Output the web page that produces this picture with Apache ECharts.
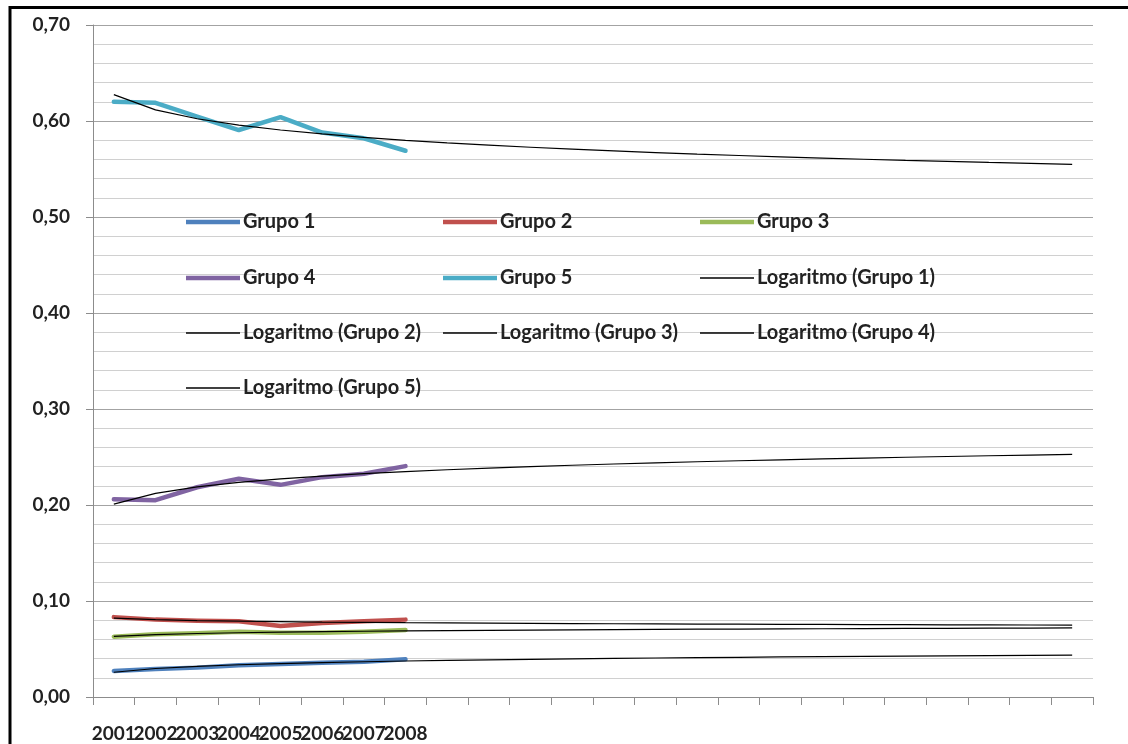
<!DOCTYPE html>
<html>
<head>
<meta charset="utf-8">
<title>Grupos 2001-2008</title>
<script src="https://cdn.jsdelivr.net/npm/echarts@6/dist/echarts.min.js"></script>
<style>
  html, body { margin: 0; padding: 0; background: #fff; }
  #chart { width: 1128px; height: 744px; }
</style>
</head>
<body>
<div id="chart"></div>
<script>
// Observed years and the number of periods the trend lines are projected forward
const years = ['2001', '2002', '2003', '2004', '2005', '2006', '2007', '2008'];
const forecastPeriods = 16;

// Share per group and year
const grupo1 = [0.0271, 0.0292, 0.0306, 0.0330, 0.0344, 0.0357, 0.0368, 0.0392];
const grupo2 = [0.0832, 0.0806, 0.0795, 0.0790, 0.0740, 0.0772, 0.0788, 0.0806];
const grupo3 = [0.0628, 0.0653, 0.0663, 0.0680, 0.0670, 0.0670, 0.0680, 0.0698];
const grupo4 = [0.2060, 0.2050, 0.2185, 0.2274, 0.2210, 0.2290, 0.2325, 0.2405];
const grupo5 = [0.6200, 0.6190, 0.6045, 0.5906, 0.6040, 0.5880, 0.5820, 0.5690];

const groupNames = ['Grupo 1', 'Grupo 2', 'Grupo 3', 'Grupo 4', 'Grupo 5'];
const groupColors = ['#4f81bd', '#c0504d', '#9bbb59', '#8064a2', '#4bacc6'];
const groupValues = [grupo1, grupo2, grupo3, grupo4, grupo5];

// Y axis range and major step
const yMin = 0, yMax = 0.7, yStep = 0.1;

// Category axis: labelled years followed by the unlabelled forecast periods
const categories = years.concat(new Array(forecastPeriods).fill(''));

// Least-squares fit y = a + b*ln(x), x = 1..n, evaluated over every period
function logTrend(values, totalPeriods) {
  const n = values.length;
  const lx = values.map((_, i) => Math.log(i + 1));
  const mx = lx.reduce((s, v) => s + v, 0) / n;
  const my = values.reduce((s, v) => s + v, 0) / n;
  let sxy = 0, sxx = 0;
  for (let i = 0; i < n; i++) {
    sxy += (lx[i] - mx) * (values[i] - my);
    sxx += (lx[i] - mx) * (lx[i] - mx);
  }
  const b = sxy / sxx;
  const a = my - b * mx;
  const out = [];
  for (let x = 1; x <= totalPeriods; x++) out.push(a + b * Math.log(x));
  return out;
}

const FONT = 'Lato, "Open Sans", "Liberation Sans", sans-serif';

const dataSeries = groupNames.map((name, i) => ({
  name: name,
  type: 'line',
  data: groupValues[i],
  symbol: 'none',
  color: groupColors[i],
  lineStyle: { width: 4.5, color: groupColors[i], cap: 'round', join: 'round' },
  z: 2,
  animation: false
}));

const trendSeries = groupNames.map((name, i) => ({
  name: 'Logaritmo (' + name + ')',
  type: 'line',
  data: logTrend(groupValues[i], categories.length),
  symbol: 'none',
  color: '#000',
  lineStyle: { width: 1.2, color: '#000' },
  z: 3,
  animation: false
}));

// Legend grid: 3 columns, 4 rows
const legendNames = groupNames.concat(trendSeries.map(s => s.name));
const legendCols = [186, 443, 700];
const legendRows = [224, 280, 335, 390];
const legends = legendNames.map((name, k) => {
  const isTrend = k >= groupNames.length;
  return {
    data: [name],
    left: legendCols[k % 3],
    top: legendRows[Math.floor(k / 3)] - 12,
    padding: 0,
    icon: 'rect',
    itemWidth: 54,
    itemHeight: isTrend ? 1.4 : 4.5,
    textStyle: {
      fontFamily: FONT, fontSize: 20, fontWeight: 'bold', color: '#222',
      padding: [0, 0, 0, -2]
    }
  };
});

const chart = echarts.init(document.getElementById('chart'), null, { renderer: 'canvas' });
chart.setOption({
  animation: false,
  backgroundColor: '#fff',
  grid: { left: 93, right: 35, top: 25, bottom: 47, containLabel: false },
  legend: legends,
  xAxis: {
    type: 'category',
    data: categories,
    boundaryGap: true,
    axisLine: { lineStyle: { color: '#8c8c8c', width: 1 } },
    axisTick: { show: true, length: 8, interval: 0, lineStyle: { color: '#8c8c8c' } },
    axisLabel: {
      interval: 0, margin: 27,
      fontFamily: FONT, fontSize: 19, fontWeight: 'bold', color: '#222'
    },
    splitLine: { show: false }
  },
  yAxis: {
    type: 'value',
    min: yMin, max: yMax, interval: yStep,
    axisLine: { show: true, lineStyle: { color: '#8c8c8c', width: 1 } },
    axisTick: { show: true, length: 7, lineStyle: { color: '#8c8c8c' } },
    axisLabel: {
      margin: 23,
      fontFamily: FONT, fontSize: 19, fontWeight: 'bold', color: '#222',
      formatter: v => v.toFixed(2).replace('.', ',')
    },
    splitLine: { show: true, lineStyle: { color: '#a3a3a3', width: 1 } },
    minorTick: { show: false, splitNumber: 5 },
    minorSplitLine: { show: true, lineStyle: { color: '#d0d0d0', width: 1 } }
  },
  series: dataSeries.concat(trendSeries),
  graphic: [{
    type: 'polyline',
    shape: { points: [[10, 760], [10, 7.5], [1140, 7.5]] },
    style: { stroke: '#000', lineWidth: 3, fill: null },
    silent: true,
    z: 100
  }]
});
</script>
</body>
</html>
